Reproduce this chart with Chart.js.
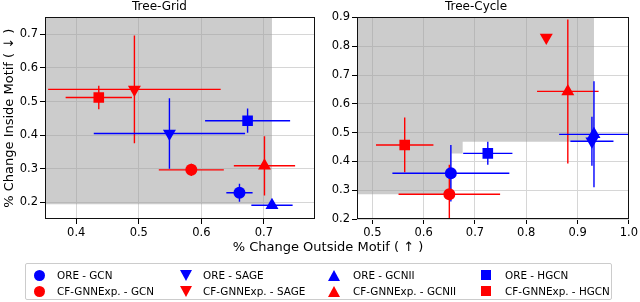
<!DOCTYPE html>
<html>
<head>
<meta charset="utf-8">
<script src="https://cdn.jsdelivr.net/npm/chart.js@4/dist/chart.umd.min.js"></script>
<style>
  body { margin: 0; background: #fff; font-family: 'DejaVu Sans', sans-serif; }
  #wrap { position: relative; width: 640px; height: 302px; overflow: hidden; }
  #gridChart { position: absolute; left: 0; top: 0; }
  #cycleChart { position: absolute; left: 322px; top: 0; }
  #xTitle { position: absolute; left: 8px; width: 640px; top: 239px; text-align: center; font-size: 13px; line-height: 16px; color: #000; }
  #legend { position: absolute; left: 25px; top: 263px; width: 587px; height: 37px; border: 1px solid #ccc; border-radius: 2px; box-sizing: border-box; }
  .item { position: absolute; font-size: 10.4px; line-height: 12px; color: #000; white-space: nowrap; }
  .mk { position: absolute; }
</style>
</head>
<body>
<div id="wrap">
  <canvas id="gridChart" width="322" height="240"></canvas>
  <canvas id="cycleChart" width="318" height="240"></canvas>
  <div id="xTitle">% Change Outside Motif ( ↑ )</div>
  <div id="legend"></div>
</div>
<script>
// Categories
const models = ['GCN', 'SAGE', 'GCNII', 'HGCN'];
const methods = ['ORE', 'CF-GNNExp.'];
const methodColors = ['#0000ff', '#ff0000'];
const modelStyles = ['circle', 'triangle', 'triangle', 'rect'];
const modelRotation = [0, 180, 0, 0];
const modelRadius = [6, 7.5, 7.5, 7.5];

// Tree-Grid
const gridOreX = [0.661, 0.549, 0.713, 0.674];
const gridOreY = [0.229, 0.405, 0.192, 0.443];
const gridOreXErr = [0.021, 0.121, 0.033, 0.068];
const gridOreYErr = [0.027, 0.105, 0.004, 0.036];
const gridCfX = [0.584, 0.493, 0.701, 0.436];
const gridCfY = [0.297, 0.536, 0.309, 0.512];
const gridCfXErr = [0.052, 0.138, 0.049, 0.053];
const gridCfYErr = [0.018, 0.16, 0.088, 0.035];
const gridShadeX = [0.3, 0.713, 0.713];
const gridShadeY = [0.195, 0.195, 1.0];
const gridXTicks = [0.4, 0.5, 0.6, 0.7];
const gridYTicks = [0.2, 0.3, 0.4, 0.5, 0.6, 0.7];

// Tree-Cycle
const cycleOreX = [0.653, 0.928, 0.932, 0.725];
const cycleOreY = [0.359, 0.470, 0.494, 0.428];
const cycleOreXErr = [0.114, 0.042, 0.068, 0.048];
const cycleOreYErr = [0.098, 0.085, 0.184, 0.040];
const cycleCfX = [0.650, 0.839, 0.881, 0.563];
const cycleCfY = [0.286, 0.830, 0.643, 0.457];
const cycleCfXErr = [0.099, 0, 0.060, 0.056];
const cycleCfYErr = [0.102, 0, 0.250, 0.095];
const cycleShadeX = [0.4, 0.654, 0.654, 0.676, 0.676, 0.932, 0.932];
const cycleShadeY = [0.286, 0.286, 0.427, 0.427, 0.468, 0.468, 1.2];
const cycleXTicks = [0.5, 0.6, 0.7, 0.8, 0.9, 1.0];
const cycleYTicks = [0.2, 0.3, 0.4, 0.5, 0.6, 0.7, 0.8, 0.9];

Chart.defaults.font.family = "'DejaVu Sans', sans-serif";
Chart.defaults.color = '#000';

const frame = {
    id: 'frame',
    afterDraw(chart) {
        const a = chart.chartArea, ctx = chart.ctx;
        ctx.save();
        ctx.strokeStyle = '#111';
        ctx.lineWidth = 1;
        ctx.strokeRect(Math.round(a.left) + 0.5, Math.round(a.top) + 0.5, Math.round(a.right - a.left) - 1, Math.round(a.bottom - a.top) - 1);
        ctx.restore();
    }
};

function errorSets(xs, ys, xe, ye, color) {
    const sets = [];
    xs.forEach((x, i) => {
        const y = ys[i];
        sets.push({ type: 'line', data: [{ x: x - xe[i], y: y }, { x: x + xe[i], y: y }] });
        sets.push({ type: 'line', data: [{ x: x, y: y - ye[i] }, { x: x, y: y + ye[i] }] });
    });
    return sets.map(s => Object.assign(s, {
        borderColor: color, borderWidth: 1.4, pointRadius: 0, fill: false, order: 1, showLine: true
    }));
}

function pointSet(xs, ys, color) {
    return {
        type: 'scatter',
        data: xs.map((x, i) => ({ x: x, y: ys[i] })),
        backgroundColor: color,
        borderColor: color,
        borderWidth: 0,
        pointStyle: modelStyles,
        rotation: modelRotation,
        pointRadius: modelRadius,
        order: 0
    };
}

function shadeSet(xs, ys) {
    return {
        type: 'line',
        data: xs.map((x, i) => ({ x: x, y: ys[i] })),
        borderWidth: 0,
        borderColor: 'rgba(0,0,0,0)',
        backgroundColor: 'rgba(153,153,153,0.5)',
        pointRadius: 0,
        fill: 'end',
        order: 2
    };
}

function makeChart(id, cfg) {
    const datasets = [
        pointSet(cfg.oreX, cfg.oreY, methodColors[0]),
        pointSet(cfg.cfX, cfg.cfY, methodColors[1])
    ].concat(
        errorSets(cfg.oreX, cfg.oreY, cfg.oreXErr, cfg.oreYErr, methodColors[0]),
        errorSets(cfg.cfX, cfg.cfY, cfg.cfXErr, cfg.cfYErr, methodColors[1]),
        [shadeSet(cfg.shadeX, cfg.shadeY)]
    );
    const grid = { color: '#d6d6d6', lineWidth: 1, tickColor: '#000', tickLength: 5, drawTicks: true };
    return new Chart(document.getElementById(id), {
        type: 'scatter',
        data: { datasets },
        options: {
            responsive: false,
            animation: false,
            devicePixelRatio: 1,
            layout: { padding: { left: 0, right: cfg.padRight, top: 0, bottom: 0 } },
            plugins: {
                legend: { display: false },
                tooltip: { enabled: false },
                title: {
                    display: true,
                    text: cfg.title,
                    font: { size: 12, weight: 'normal' },
                    padding: { top: 0, bottom: 3 },
                    color: '#000'
                }
            },
            scales: {
                x: {
                    type: 'linear',
                    min: cfg.xMin,
                    max: cfg.xMax,
                    grid: grid,
                    border: { display: false },
                    afterBuildTicks: axis => { axis.ticks = cfg.xTicks.map(v => ({ value: v })); },
                    afterFit: axis => { axis.height = 21; },
                    ticks: { font: { size: 11.5 }, padding: 2, maxRotation: 0, callback: v => v.toFixed(1) }
                },
                y: {
                    type: 'linear',
                    min: cfg.yMin,
                    max: cfg.yMax,
                    grid: grid,
                    border: { display: false },
                    afterBuildTicks: axis => { axis.ticks = cfg.yTicks.map(v => ({ value: v })); },
                    afterFit: axis => { axis.width = cfg.yWidth; },
                    ticks: { font: { size: 11.5 }, padding: 2, callback: v => v.toFixed(1) },
                    title: {
                        display: !!cfg.yTitle,
                        text: cfg.yTitle,
                        font: { size: 13 },
                        padding: { top: 2, bottom: 0 },
                        color: '#000'
                    }
                }
            }
        },
        plugins: [frame]
    });
}

makeChart('gridChart', {
    title: 'Tree-Grid',
    oreX: gridOreX, oreY: gridOreY, oreXErr: gridOreXErr, oreYErr: gridOreYErr,
    cfX: gridCfX, cfY: gridCfY, cfXErr: gridCfXErr, cfYErr: gridCfYErr,
    shadeX: gridShadeX, shadeY: gridShadeY,
    xTicks: gridXTicks, yTicks: gridYTicks,
    xMin: 0.35, xMax: 0.781, yMin: 0.151, yMax: 0.75,
    yWidth: 45, padRight: 3,
    yTitle: '% Change Inside Motif ( ↓ )'
});

makeChart('cycleChart', {
    title: 'Tree-Cycle',
    oreX: cycleOreX, oreY: cycleOreY, oreXErr: cycleOreXErr, oreYErr: cycleOreYErr,
    cfX: cycleCfX, cfY: cycleCfY, cfXErr: cycleCfXErr, cfYErr: cycleCfYErr,
    shadeX: cycleShadeX, shadeY: cycleShadeY,
    xTicks: cycleXTicks, yTicks: cycleYTicks,
    xMin: 0.47, xMax: 1.0, yMin: 0.2, yMax: 0.9,
    yWidth: 35, padRight: 10,
    yTitle: ''
});

// HTML legend
const legendCols = [13, 160, 308, 460];
const legendTextCols = [31, 177, 327, 479];
const legendRows = [5, 21];
const legend = document.getElementById('legend');
methods.forEach((m, r) => {
    models.forEach((md, c) => {
        const mk = document.createElement('div');
        mk.className = 'mk';
        const col = methodColors[r];
        const cx = legendCols[c], cy = legendRows[r] + 6;
        if (modelStyles[c] === 'circle') {
            Object.assign(mk.style, { width: '11px', height: '11px', borderRadius: '50%', background: col, left: (cx - 5.5) + 'px', top: (cy - 5.5) + 'px' });
        } else if (modelStyles[c] === 'rect') {
            Object.assign(mk.style, { width: '10px', height: '10px', background: col, left: (cx - 5) + 'px', top: (cy - 5) + 'px' });
        } else {
            const down = modelRotation[c] === 180;
            Object.assign(mk.style, {
                width: 0, height: 0, left: (cx - 6) + 'px', top: (cy - 5) + 'px',
                borderLeft: '6px solid transparent', borderRight: '6px solid transparent'
            });
            if (down) mk.style.borderTop = '11px solid ' + col;
            else mk.style.borderBottom = '11px solid ' + col;
        }
        legend.appendChild(mk);
        const t = document.createElement('div');
        t.className = 'item';
        t.textContent = m + ' - ' + md;
        t.style.left = legendTextCols[c] + 'px';
        t.style.top = legendRows[r] + 'px';
        legend.appendChild(t);
    });
});
</script>
</body>
</html>
